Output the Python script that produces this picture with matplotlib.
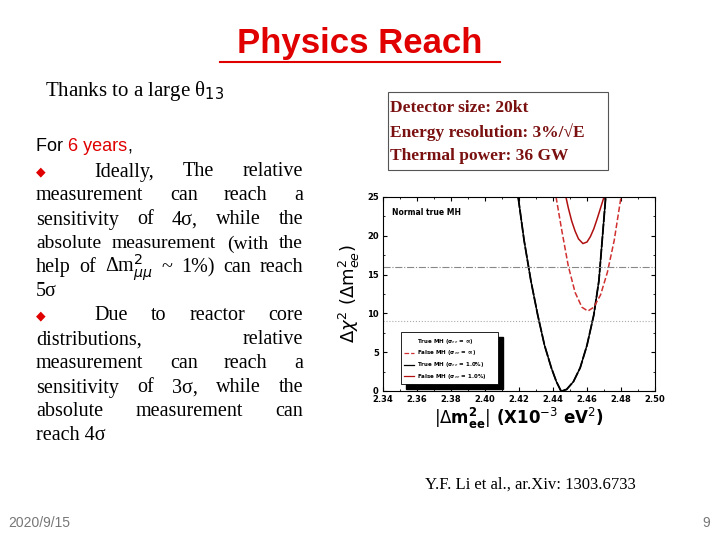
import matplotlib
matplotlib.use("Agg")
import matplotlib.pyplot as plt
from matplotlib.patches import Rectangle

# data
x_true = [2.4195, 2.423, 2.427, 2.431, 2.435, 2.439, 2.442, 2.4447, 2.448, 2.452, 2.456, 2.460, 2.464, 2.467, 2.471]
y_true = [25.0, 19.4, 14.2, 9.8, 5.9, 3.0, 1.2, 0.0, 0.2, 1.2, 3.0, 5.9, 9.8, 14.2, 25.0]
x_false_inf = [2.4418, 2.445, 2.449, 2.453, 2.457, 2.4605, 2.464, 2.468, 2.472, 2.476, 2.480]
y_false_inf = [25.0, 20.9, 16.1, 12.7, 10.8, 10.3, 10.8, 12.4, 15.3, 19.4, 25.0]
x_false_1 = [2.4476, 2.449, 2.451, 2.453, 2.455, 2.4576, 2.460, 2.462, 2.464, 2.466, 2.468, 2.470]
y_false_1 = [25.0, 23.6, 21.9, 20.6, 19.6, 19.0, 19.2, 19.9, 20.9, 22.2, 23.6, 25.0]
h_3sigma = 9
h_4sigma = 16
xticks = [2.34, 2.36, 2.38, 2.40, 2.42, 2.44, 2.46, 2.48, 2.50]
yticks = [0, 5, 10, 15, 20, 25]

fig = plt.figure(figsize=(7.2, 5.4), dpi=100)
W, H = 720, 540
def fx(p): return p / W
def fy(p): return 1 - p / H

serif = "Liberation Serif"
sans = "Liberation Sans"
r = fig.canvas.get_renderer()

def width_px(s, **kw):
    t = fig.text(0, 0, s, **kw)
    w = t.get_window_extent(renderer=r).width
    t.remove()
    return w

fig.text(0.5, fy(44), "Physics Reach", ha="center", va="center", color="#e00000",
         fontsize=25, fontweight="bold", family=sans)
fig.add_artist(plt.Line2D([fx(220), fx(500)], [fy(62), fy(62)], color="#e00000", lw=1.5))
fig.text(fx(45), fy(91), "Thanks to a large θ$_{13}$", fontsize=15, family=serif, va="center")

# "For 6 years,"
xp = 36
for s, c in [("For ", "black"), ("6 years", "#e00000"), (",", "black")]:
    kw = dict(fontsize=13, family=sans)
    fig.text(fx(xp), fy(147), s, va="center", color=c, **kw)
    xp += width_px(s, **kw)

lines = [
    (True, True, "Ideally,  The  relative"),
    (False, True, "measurement can reach a"),
    (False, True, "sensitivity of 4σ, while the"),
    (False, True, "absolute measurement (with the"),
    (False, True, "help of Δm$^2_{\\mu\\mu}$ ~ 1%) can reach"),
    (False, False, "5σ"),
    (True, True, "Due to reactor core"),
    (False, True, "distributions, relative"),
    (False, True, "measurement can reach a"),
    (False, True, "sensitivity of 3σ, while the"),
    (False, True, "absolute measurement can"),
    (False, False, "reach 4σ"),
]
L, R = 36, 303
for i, (bul, just, s) in enumerate(lines):
    y = 172 + 24 * i
    x0 = L
    kw = dict(fontsize=14.5 if i != 3 else 14, family=serif)
    if bul:
        fig.text(fx(L), fy(y), "◆", fontsize=9, color="#e00000", va="center", family="DejaVu Sans")
        x0 = L + 58
    words = s.split()
    if just and len(words) > 1:
        ws = [width_px(w, **kw) for w in words]
        gap = max((R - x0 - sum(ws)) / (len(words) - 1), 3)
        xp = x0
        for w, wd in zip(words, ws):
            fig.text(fx(xp), fy(y), w, va="center", **kw)
            xp += wd + gap
    else:
        fig.text(fx(x0), fy(y), s, va="center", **kw)

# info box
fig.add_artist(Rectangle((fx(388), fy(170)), fx(220), 78 / H, fill=False, lw=0.8, ec="#555555",
                         transform=fig.transFigure))
for i, s in enumerate(["Detector size: 20kt", "Energy resolution: 3%/√E", "Thermal power: 36 GW"]):
    fig.text(fx(390), fy(108 + 24 * i), s, fontsize=12.5, family=serif, color="#7a1010",
             fontweight="bold", va="center")

ax = fig.add_axes([fx(383), fy(391), fx(655 - 383), (391 - 197) / H])
ax.plot(x_true, y_true, color="black", lw=1.3, ls="--", dashes=(6, 1))
ax.plot(x_true, y_true, color="black", lw=1.0)
ax.plot(x_false_inf, y_false_inf, color="#d03030", lw=1.1, ls="--")
ax.plot(x_false_1, y_false_1, color="#b01010", lw=1.1)
ax.axhline(h_4sigma, color="#888888", lw=0.8, ls="-.")
ax.axhline(h_3sigma, color="#aaaaaa", lw=0.8, ls=":")
ax.set_xlim(2.34, 2.50)
ax.set_ylim(0, 25)
ax.set_xticks(xticks)
ax.set_xticklabels([f"{v:.2f}" for v in xticks], fontsize=6, fontweight="bold")
ax.set_yticks(yticks)
ax.set_yticklabels([str(v) for v in yticks], fontsize=6, fontweight="bold")
ax.set_xticks([2.35, 2.37, 2.39, 2.41, 2.43, 2.45, 2.47, 2.49], minor=True)
ax.set_yticks([2.5, 7.5, 12.5, 17.5, 22.5], minor=True)
ax.tick_params(direction="in", top=True, right=True, length=3, pad=3)
ax.tick_params(which="minor", direction="in", top=True, right=True, length=1.5)
ax.text(2.345, 22.7, "Normal true MH", fontsize=5.5, fontweight="bold")
ax.set_xlabel(r"$|\Delta \mathbf{m^2_{ee}}|$ (X10$^{-3}$ eV$^2$)", fontsize=12, fontweight="bold", labelpad=1)
ax.set_ylabel(r"$\Delta\chi^2$ ($\Delta$m$^2_{ee}$)", fontsize=13, labelpad=4)

# legend with shadow
ax.add_patch(Rectangle((2.3538, 0.3), 0.057, 6.7, color="black", zorder=4))
ax.add_patch(Rectangle((2.3505, 0.9), 0.057, 6.7, fc="white", ec="black", lw=0.6, zorder=5))
labs = [("True MH (σ$_{ee}$ = ∞)", None), ("False MH (σ$_{ee}$ = ∞)", ("#d03030", "--")),
        ("True MH (σ$_{ee}$ = 1.0%)", ("black", "-")), ("False MH (σ$_{ee}$ = 1.0%)", ("#b01010", "-"))]
for i, (s, st) in enumerate(labs):
    yy = 6.4 - 1.5 * i
    if st:
        ax.plot([2.3525, 2.3585], [yy, yy], color=st[0], ls=st[1], lw=0.9, zorder=6)
    ax.text(2.3600, yy, s, fontsize=4, fontweight="bold", va="center", zorder=6)

fig.text(fx(530), fy(485), "Y.F. Li et al., ar.Xiv: 1303.6733", ha="center", va="center",
         fontsize=12, family=serif)
fig.text(fx(8), fy(523), "2020/9/15", fontsize=10, color="#777777", va="center", family=sans)
fig.text(fx(710), fy(523), "9", fontsize=10, color="#777777", va="center", ha="right", family=sans)

fig.savefig("out.png", dpi=100)
